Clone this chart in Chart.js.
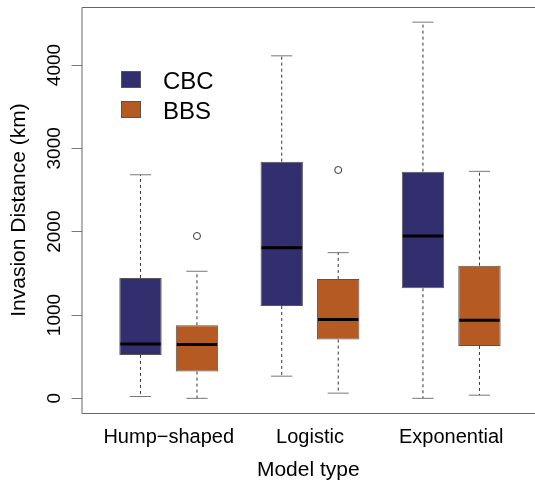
<!DOCTYPE html>
<html>
<head>
<meta charset="utf-8">
<script src="https://cdn.jsdelivr.net/npm/chart.js@4.4.1/dist/chart.umd.min.js"></script>
<style>
  html, body { margin: 0; padding: 0; background: #fff; overflow: hidden; }
  #wrap { width: 535px; height: 484px; }
</style>
</head>
<body>
<div id="wrap"><canvas id="chart" width="535" height="484"></canvas></div>
<script>
// ── Datos ─────────────────────────────────────────────────────
const categories = ['Hump\u2212shaped', 'Logistic', 'Exponential'];
const seriesNames = ['CBC', 'BBS'];
const seriesColors = ['#332f6e', '#b65a24'];

const cbcPos = [1, 3.5, 6];
const bbsPos = [2, 4.5, 7];

const cbcMin = [22, 266, 0];
const cbcQ1  = [521, 1109, 1321];
const cbcMed = [653, 1808, 1948];
const cbcQ3  = [1445, 2840, 2720];
const cbcMax = [2683, 4110, 4514];
const cbcOut = [[], [], []];

const bbsMin = [0, 62, 38];
const bbsQ1  = [321, 705, 629];
const bbsMed = [645, 945, 937];
const bbsQ3  = [877, 1433, 1592];
const bbsMax = [1525, 1748, 2724];
const bbsOut = [[1948], [2740], []];

const yTicks = [0, 1000, 2000, 3000, 4000];

// ── Helpers ───────────────────────────────────────────────────
const FONT = "'Liberation Sans', Arial, Helvetica, sans-serif";

function boxData(pos, q1, q3) {
  return pos.map((x, i) => ({ x, y: [q1[i], q3[i]] }));
}

function outlierData(pos, out) {
  const pts = [];
  pos.forEach((x, i) => out[i].forEach(v => pts.push({ x, y: v })));
  return pts;
}

const stats = [
  { min: cbcMin, med: cbcMed, max: cbcMax, q1: cbcQ1, q3: cbcQ3 },
  { min: bbsMin, med: bbsMed, max: bbsMax, q1: bbsQ1, q3: bbsQ3 },
];

const groupCenters = cbcPos.map((p, i) => (p + bbsPos[i]) / 2);

// ── Plugin: bigotes, medianas, marco, etiquetas y leyenda ─────
const boxExtras = {
  id: 'boxExtras',
  afterDatasetsDraw(chart) {
    const ctx = chart.ctx;
    const y = chart.scales.y;
    ctx.save();
    [0, 1].forEach(di => {
      const meta = chart.getDatasetMeta(di);
      const s = stats[di];
      meta.data.forEach((bar, i) => {
        const half = bar.width / 2;
        const yq1 = y.getPixelForValue(s.q1[i]);
        const yq3 = y.getPixelForValue(s.q3[i]);
        const ymin = y.getPixelForValue(s.min[i]);
        const ymax = y.getPixelForValue(s.max[i]);
        // bigotes punteados
        ctx.strokeStyle = '#333';
        ctx.lineWidth = 1;
        ctx.setLineDash([3, 3]);
        ctx.beginPath();
        ctx.moveTo(bar.x, yq3); ctx.lineTo(bar.x, ymax);
        ctx.moveTo(bar.x, yq1); ctx.lineTo(bar.x, ymin);
        ctx.stroke();
        ctx.setLineDash([]);
        // topes
        ctx.strokeStyle = '#777';
        ctx.beginPath();
        ctx.moveTo(bar.x - half / 2, ymax); ctx.lineTo(bar.x + half / 2, ymax);
        ctx.moveTo(bar.x - half / 2, ymin); ctx.lineTo(bar.x + half / 2, ymin);
        ctx.stroke();
        // mediana
        const ym = y.getPixelForValue(s.med[i]);
        ctx.strokeStyle = '#000';
        ctx.lineWidth = 3;
        ctx.beginPath();
        ctx.moveTo(bar.x - half + 1, ym); ctx.lineTo(bar.x + half - 1, ym);
        ctx.stroke();
      });
    });

    // marco (el lado derecho queda fuera de la imagen)
    const a = chart.chartArea;
    const W = chart.width;
    ctx.strokeStyle = '#666';
    ctx.lineWidth = 1;
    ctx.beginPath();
    ctx.moveTo(W, a.top + 0.5);
    ctx.lineTo(a.left + 0.5, a.top + 0.5);
    ctx.lineTo(a.left + 0.5, a.bottom + 0.5);
    ctx.lineTo(W, a.bottom + 0.5);
    ctx.stroke();

    // etiquetas eje Y (rotadas, estilo R)
    ctx.fillStyle = '#000';
    ctx.font = '19px ' + FONT;
    ctx.textAlign = 'center';
    ctx.textBaseline = 'middle';
    y.ticks.forEach(t => {
      ctx.save();
      ctx.translate(55, y.getPixelForValue(t.value));
      ctx.rotate(-Math.PI / 2);
      ctx.fillText(String(t.value), 0, 0);
      ctx.restore();
    });

    // leyenda
    ctx.font = '24px ' + FONT;
    ctx.textAlign = 'left';
    ctx.textBaseline = 'alphabetic';
    seriesNames.forEach((name, i) => {
      const top = 71 + i * 30;
      ctx.fillStyle = seriesColors[i];
      ctx.fillRect(121, top, 20, 17);
      ctx.strokeStyle = '#555';
      ctx.strokeRect(121.5, top + 0.5, 19, 16);
      ctx.fillStyle = '#000';
      ctx.fillText(name, 163, top + 17.5);
    });
    ctx.restore();
  },
};

// ── Gráfico ───────────────────────────────────────────────────
const ctx = document.getElementById('chart').getContext('2d');
new Chart(ctx, {
  type: 'bar',
  data: {
    datasets: [
      {
        label: seriesNames[0],
        data: boxData(cbcPos, cbcQ1, cbcQ3),
        backgroundColor: seriesColors[0],
        borderColor: '#555',
        borderWidth: 1,
        borderSkipped: false,
        grouped: false,
        barPercentage: 0.75,
        categoryPercentage: 1,
      },
      {
        label: seriesNames[1],
        data: boxData(bbsPos, bbsQ1, bbsQ3),
        backgroundColor: seriesColors[1],
        borderColor: '#555',
        borderWidth: 1,
        borderSkipped: false,
        grouped: false,
        barPercentage: 0.75,
        categoryPercentage: 1,
      },
      {
        type: 'scatter',
        label: 'outliers',
        data: outlierData(cbcPos, cbcOut).concat(outlierData(bbsPos, bbsOut)),
        pointRadius: 3.5,
        pointStyle: 'circle',
        borderColor: '#333',
        backgroundColor: 'rgba(0,0,0,0)',
        borderWidth: 1,
      },
    ],
  },
  options: {
    responsive: false,
    animation: false,
    devicePixelRatio: 1,
    layout: { autoPadding: false, padding: { left: 0, right: 0, top: 7, bottom: 0 } },
    plugins: {
      legend: { display: false },
      tooltip: { enabled: false },
    },
    scales: {
      x: {
        type: 'linear',
        offset: false,
        min: -0.044,
        max: 7.983,
        afterBuildTicks: scale => { scale.ticks = groupCenters.map(v => ({ value: v })); },
        afterFit: scale => { scale.height = 71; scale.paddingLeft = 0; scale.paddingRight = 0; },
        grid: { display: false, drawTicks: false, offset: false },
        border: { display: false },
        ticks: {
          autoSkip: false,
          maxRotation: 0,
          padding: 12,
          color: '#000',
          font: { family: FONT, size: 20 },
          callback: (v, i) => categories[i],
        },
        title: {
          display: true,
          text: 'Model type',
          color: '#000',
          font: { family: FONT, size: 21 },
          padding: { top: 0, bottom: 1 },
        },
      },
      y: {
        min: -176,
        max: 4696,
        afterBuildTicks: scale => { scale.ticks = yTicks.map(v => ({ value: v })); },
        afterFit: scale => { scale.width = 81.5; },
        grid: { drawOnChartArea: false, drawTicks: true, tickLength: 10, color: '#777' },
        border: { display: false },
        ticks: { display: false },
        title: {
          display: true,
          text: 'Invasion Distance (km)',
          color: '#000',
          font: { family: FONT, size: 21 },
          padding: { top: 7, bottom: 0 },
        },
      },
    },
  },
  plugins: [boxExtras],
});
</script>
</body>
</html>
